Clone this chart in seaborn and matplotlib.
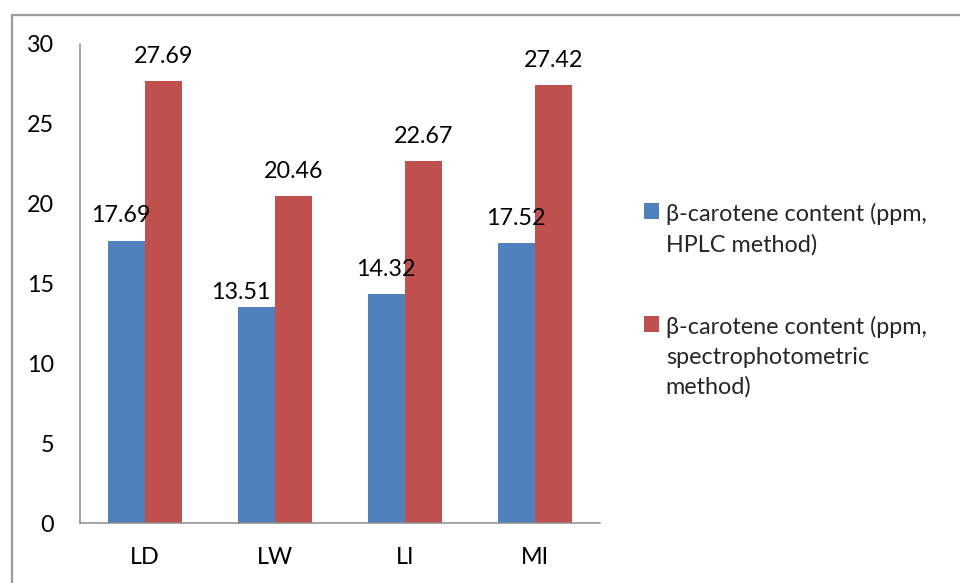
import matplotlib
matplotlib.use("Agg")
import matplotlib.pyplot as plt
from matplotlib.lines import Line2D
from matplotlib.ticker import FixedLocator, MultipleLocator
import seaborn as sns
import pandas as pd

# Sample codes and beta-carotene content measured by the two methods
samples = ["LD", "LW", "LI", "MI"]
hplc = [17.69, 13.51, 14.32, 17.52]
spectro = [27.69, 20.46, 22.67, 27.42]
series_names = [
    "\u03b2-carotene content (ppm,\nHPLC method)",
    "\u03b2-carotene content (ppm,\nspectrophotometric\nmethod)",
]
colors = ["#4F81BD", "#C0504D"]
y_ticks = [0, 5, 10, 15, 20, 25, 30]

df = pd.DataFrame({
    "sample": samples * 2,
    "value": hplc + spectro,
    "series": [series_names[0]] * len(samples) + [series_names[1]] * len(samples),
})

sns.set_style("white")
plt.rcParams["font.family"] = ["Lato", "DejaVu Sans"]
FS = 16.8
AXIS_GRAY = "#8c8c8c"

fig = plt.figure(figsize=(9.6, 5.83), dpi=100)
ax = fig.add_axes([80 / 960, 1 - 523 / 583, 520 / 960, (523 - 44) / 583])

sns.barplot(data=df, x="sample", y="value", hue="series", order=samples,
            hue_order=series_names, palette=colors, width=0.575, gap=0,
            saturation=1, edgecolor="none", ax=ax)

ax.set_xlim(-0.5, len(samples) - 0.5)
ax.set_ylim(0, 30)
ax.yaxis.set_major_locator(FixedLocator(y_ticks))
ax.set_xlabel("")
ax.set_ylabel("")

for side in ["top", "right"]:
    ax.spines[side].set_visible(False)
for side in ["left", "bottom"]:
    ax.spines[side].set_color(AXIS_GRAY)
    ax.spines[side].set_linewidth(1.1)

# category separators as minor ticks on the x axis
ax.xaxis.set_minor_locator(MultipleLocator(1, offset=0.5))
ax.tick_params(axis="x", which="major", length=0, pad=17, labelsize=FS)
ax.tick_params(axis="x", which="minor", length=5.8, width=1.1,
               color=AXIS_GRAY, direction="out")
ax.tick_params(axis="y", which="major", length=5.8, width=1.1,
               color=AXIS_GRAY, direction="out", pad=13, labelsize=FS)
ax.tick_params(axis="both", labelcolor="black")

# value labels above each bar (a couple of HPLC labels nudged aside)
label_shift = {(0, 0): (-4, 0), (0, 1): (-11, -7)}
for si, container in enumerate(ax.containers):
    for bi, bar in enumerate(container):
        dx, dy = label_shift.get((si, bi), (0, 0))
        ax.annotate(f"{bar.get_height():.2f}",
                    (bar.get_x() + bar.get_width() / 2, bar.get_height()),
                    xytext=(dx, 13 + dy), textcoords="offset points",
                    ha="center", va="baseline", fontsize=FS, color="black")

handles, labels = ax.get_legend_handles_labels()
ax.get_legend().remove()
leg = fig.legend(handles, labels, loc="upper left",
                 bbox_to_anchor=(644 / 960, 1 - 203 / 583),
                 frameon=False, fontsize=FS, borderpad=0, borderaxespad=0,
                 handlelength=0.65, handleheight=0.65, handletextpad=0.28,
                 labelspacing=2.6)
for txt in leg.get_texts():
    txt.set_linespacing(1.5)
# put each swatch beside the first line of its label
for column in leg._legend_handle_box.get_children():
    for row in column.get_children():
        row.align = "top"

# outer frame lines along the top and left of the chart area
fig.add_artist(Line2D([11.5 / 960, 11.5 / 960, 1.05],
                      [-0.05, 1 - 14.5 / 583, 1 - 14.5 / 583],
                      transform=fig.transFigure, color="#9a9a9a",
                      linewidth=1.6))

fig.savefig("out.png", dpi=100)
